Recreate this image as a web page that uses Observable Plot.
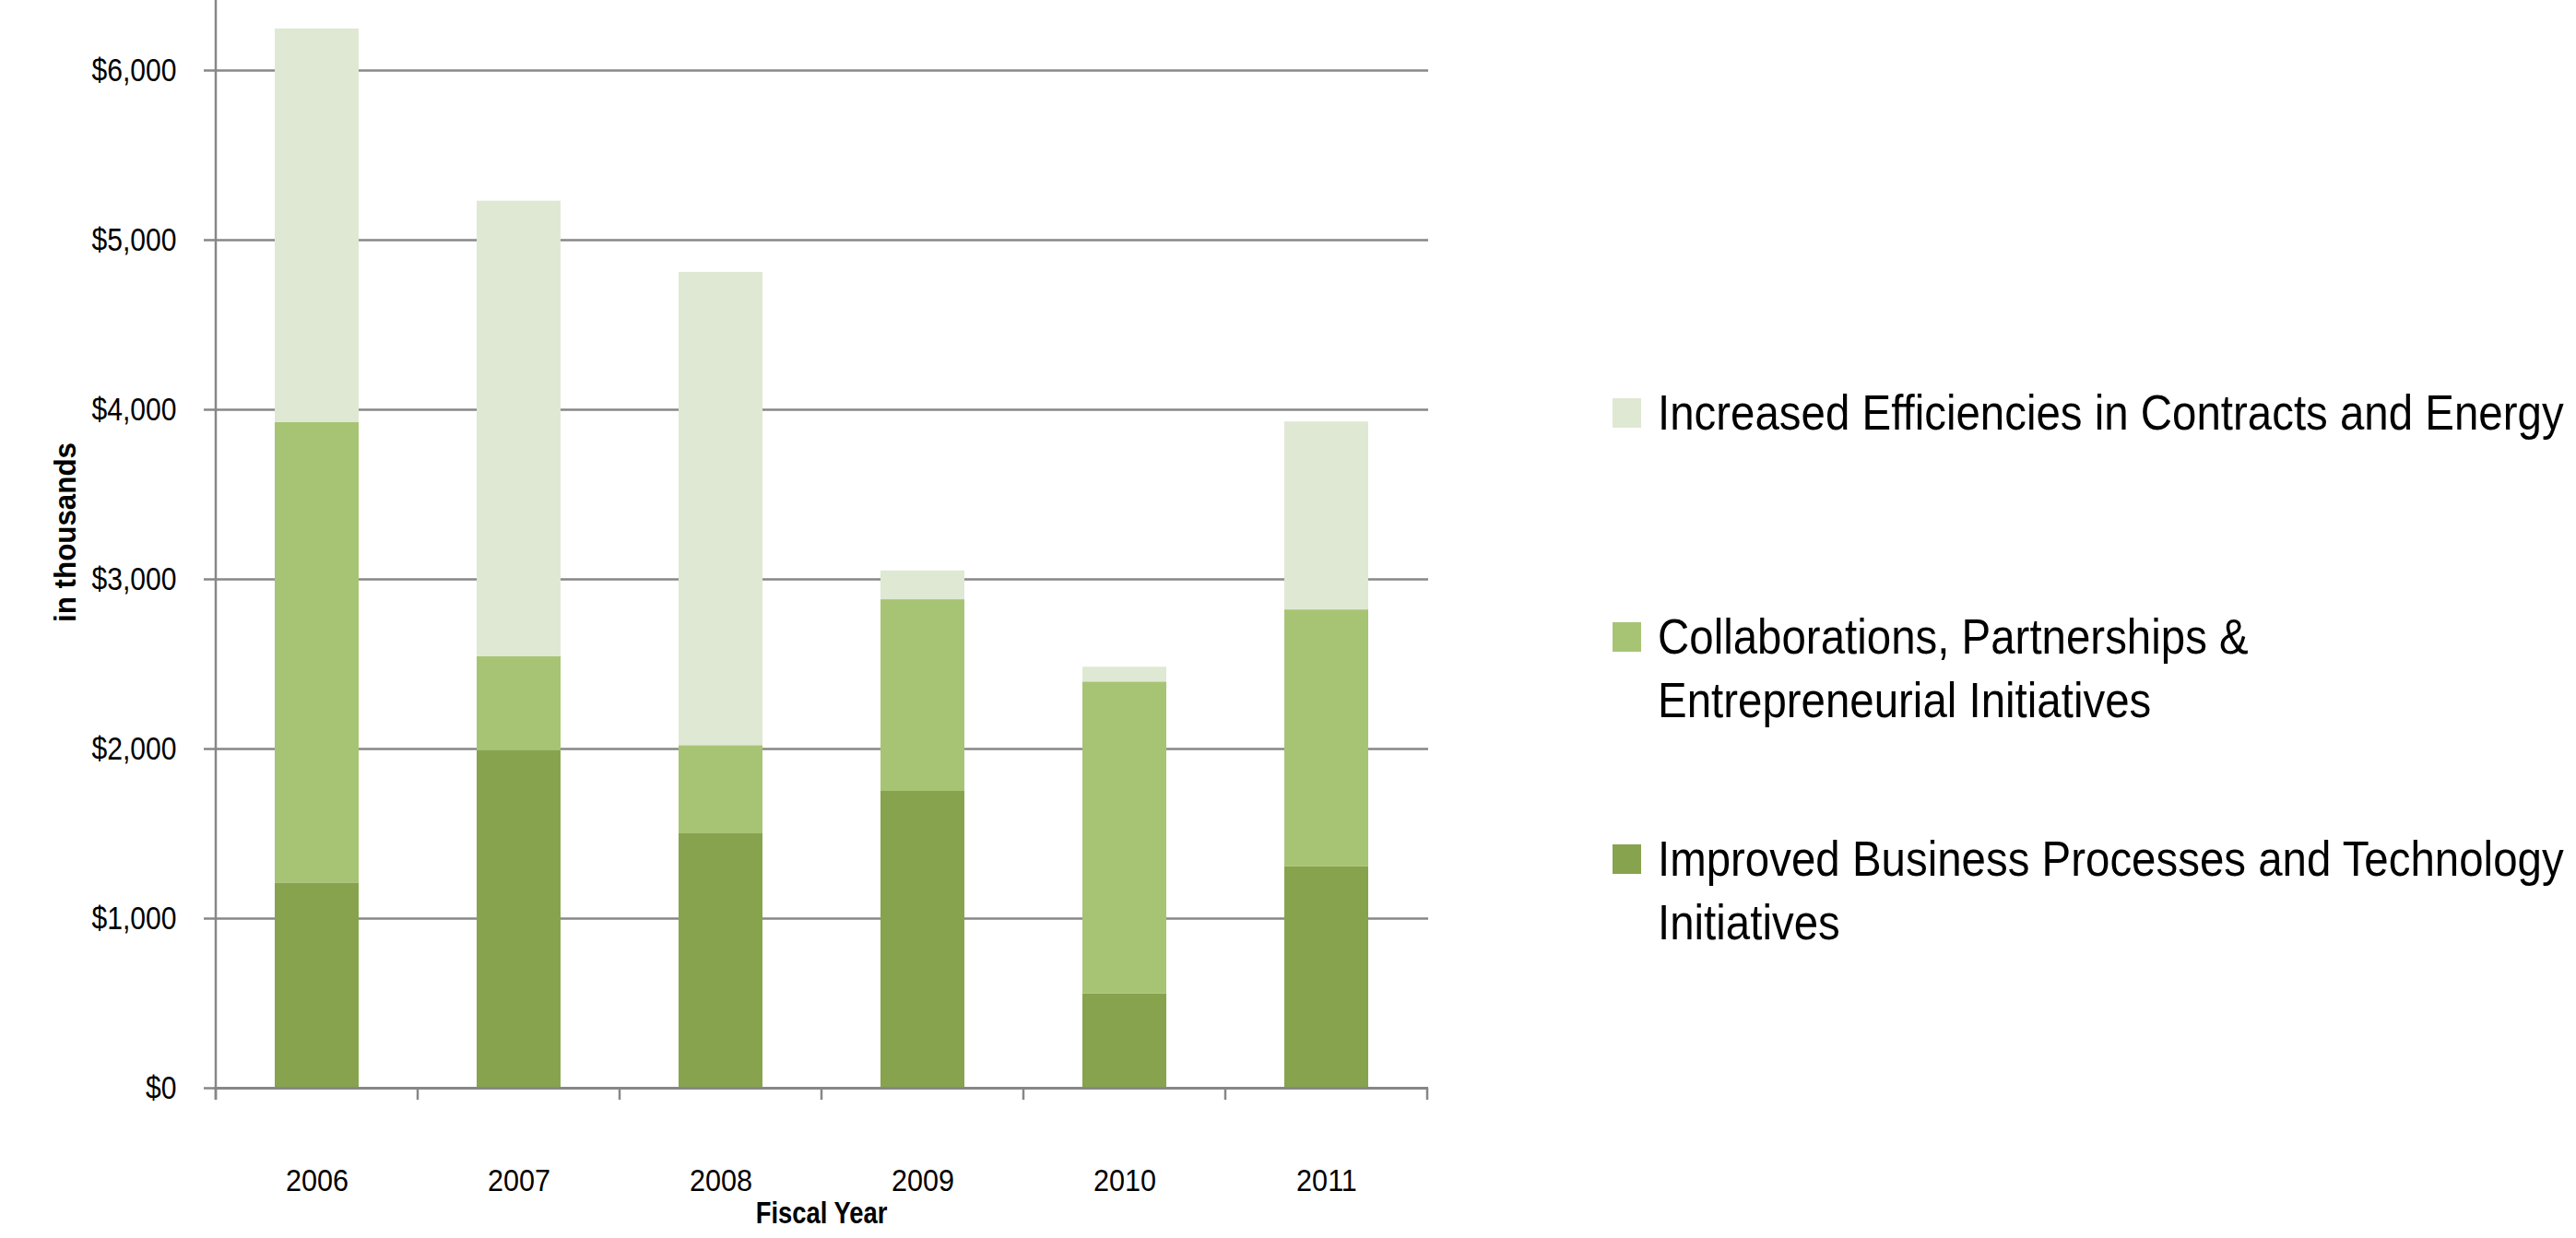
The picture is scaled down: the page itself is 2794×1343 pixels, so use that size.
<!DOCTYPE html>
<html><head><meta charset="utf-8">
<script src="https://cdn.jsdelivr.net/npm/d3@7"></script>
<script src="https://cdn.jsdelivr.net/npm/@observablehq/plot@0.6"></script>
<style>
html,body{margin:0;padding:0;background:#fff;}
#wrap{position:relative;width:2794px;height:1343px;overflow:hidden;font-family:"Liberation Sans",Arial,sans-serif;}
#chart{position:absolute;left:0;top:0;}
#legend{position:absolute;left:1749px;top:0;}
.item{position:absolute;left:0;display:flex;font-size:53px;line-height:69px;color:#000;white-space:nowrap;}
.sw{width:31px;height:32px;margin-top:19px;margin-right:18px;flex:none;}
.txt{display:inline-block;transform:scaleX(0.895);transform-origin:0 0;}
</style></head>
<body>
<div id="wrap"><div id="chart"></div><div id="legend"></div></div>
<script>
const years = ["2006", "2007", "2008", "2009", "2010", "2011"];
const improved = [1210, 1990, 1500, 1750, 555, 1305];
const collaborations = [2715, 555, 520, 1130, 1840, 1515];
const efficiencies = [2320, 2685, 2790, 170, 87, 1108];
const seriesNames = [
  "Improved Business Processes and Technology Initiatives",
  "Collaborations, Partnerships & Entrepreneurial Initiatives",
  "Increased Efficiencies in Contracts and Energy"
];
const legendLines = [
  ["Improved Business Processes and Technology", "Initiatives"],
  ["Collaborations, Partnerships &", "Entrepreneurial Initiatives"],
  ["Increased Efficiencies in Contracts and Energy"]
];
const colors = ["#87A34D", "#A7C474", "#DFE8D3"];
const yTicks = [0, 1000, 2000, 3000, 4000, 5000, 6000];
const yLabel = "in thousands";
const xLabel = "Fiscal Year";

const seriesValues = [improved, collaborations, efficiencies];
const rows = [];
years.forEach((yr, i) => {
  seriesValues.forEach((vals, s) => rows.push({year: yr, series: seriesNames[s], value: vals[i]}));
});

const font = "'Liberation Sans', Arial, sans-serif";
const gridColor = "#878787";

const axisDecor = (index, scales, values, dimensions) => {
  const {x, y} = scales;
  const y0 = y(0);
  const bw = x.bandwidth();
  const starts = years.map(v => x(v));
  const step = starts[1] - starts[0];
  const left = starts[0] - (step - bw) / 2;
  const g = d3.create("svg:g").attr("stroke", gridColor).attr("stroke-width", 2.5);
  for (let i = 0; i <= years.length; i++) {
    const bx = left + i * step;
    g.append("line").attr("x1", bx).attr("x2", bx).attr("y1", y0).attr("y2", y0 + 13);
  }
  g.append("line").attr("x1", left).attr("x2", left).attr("y1", dimensions.marginTop).attr("y2", y0 + 13);
  return g.node();
};

const plot = Plot.plot({
  width: 1600,
  height: 1343,
  marginLeft: 232,
  marginRight: 51,
  marginTop: 0,
  marginBottom: 163,
  style: {fontFamily: font, fontSize: "34px", color: "#000", background: "white", overflow: "visible"},
  x: {domain: years, paddingInner: 0.585, paddingOuter: 0.2925, label: null},
  y: {domain: [0, 6413], label: null},
  color: {domain: seriesNames, range: colors},
  marks: [
    Plot.gridY(yTicks.filter(t => t > 0), {stroke: gridColor, strokeOpacity: 1, strokeWidth: 2.5}),
    Plot.axisY(yTicks, {className: "ylab", tickSize: 11, tickPadding: 30, stroke: gridColor, strokeWidth: 2.5, strokeOpacity: 1,
      tickFormat: d => "$" + d3.format(",")(d), fontSize: 35, label: null}),
    Plot.axisX({className: "xlab", tickSize: 0, tickPadding: 87, fontSize: 34, label: null}),
    Plot.barY(rows, {x: "year", y: "value", fill: "series"}),
    Plot.ruleY([0], {stroke: gridColor, strokeWidth: 3}),
    axisDecor,
    Plot.text([yLabel], {className: "ytitle", text: d => d, frameAnchor: "left", textAnchor: "middle", lineAnchor: "middle",
      dx: -161, dy: -13, rotate: -90, fontWeight: "bold", fontSize: 33, fill: "#000"}),
    Plot.text([xLabel], {className: "xtitle", text: d => d, frameAnchor: "bottom", textAnchor: "middle", lineAnchor: "middle",
      dy: 136, fontWeight: "bold", fontSize: 33, fill: "#000"})
  ]
});

function squeeze(sel, k) {
  d3.select(plot).selectAll(sel).each(function() {
    const t = this.getAttribute("transform") || "";
    const x = +(this.getAttribute("x") || 0);
    this.setAttribute("transform", `${t} translate(${x},0) scale(${k},1) translate(${-x},0)`);
  });
}
squeeze(".ylab text", 0.86);
squeeze(".xlab text", 0.9);
squeeze(".ytitle text", 0.95);
squeeze(".xtitle text", 0.83);

document.getElementById("chart").appendChild(plot);

const legend = document.getElementById("legend");
const legendTops = [897, 656, 413];
legendLines.forEach((lines, i) => {
  const item = document.createElement("div");
  item.className = "item";
  item.style.top = legendTops[i] + "px";
  const sw = document.createElement("div");
  sw.className = "sw";
  sw.style.background = colors[i];
  const txt = document.createElement("div");
  txt.className = "txt";
  txt.innerHTML = lines.map(l => l.replace(/&/g, "&amp;")).join("<br>");
  item.appendChild(sw);
  item.appendChild(txt);
  legend.appendChild(item);
});
</script>
</body></html>
